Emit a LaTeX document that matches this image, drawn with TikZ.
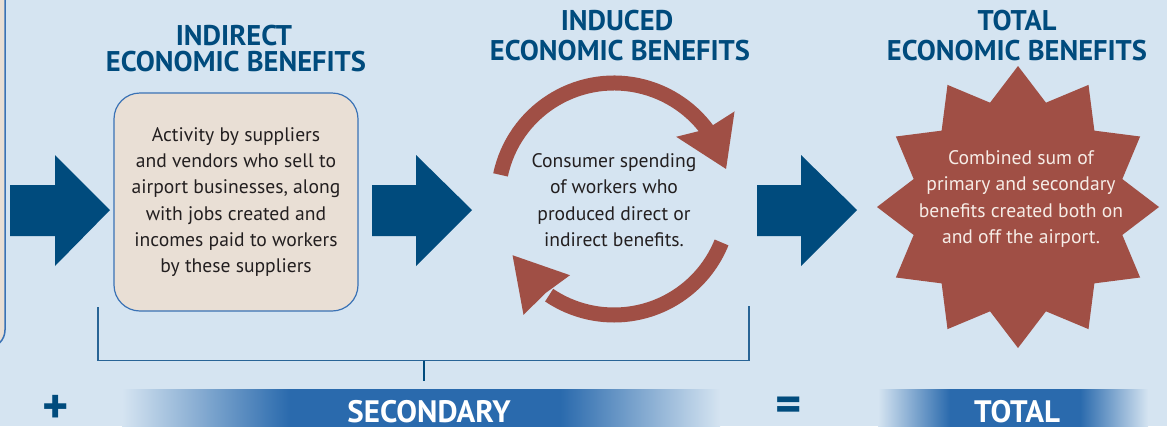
\documentclass[tikz,border=0pt]{standalone}
\usepackage{fontspec}
\setmainfont{PT Sans}
\definecolor{bg}{RGB}{213,228,241}
\definecolor{navy}{RGB}{0,75,125}
\definecolor{beige}{RGB}{233,223,213}
\definecolor{boxline}{RGB}{58,114,181}
\definecolor{rust}{RGB}{160,79,69}
\definecolor{barblue}{RGB}{42,106,173}
\definecolor{ink}{RGB}{35,31,32}
\definecolor{brk}{RGB}{40,100,150}
\definecolor{startext}{RGB}{246,236,230}
\begin{document}
\begin{tikzpicture}[x=1pt,y=-1pt,
  titletext/.style={text=navy, font=\fontsize{28.5}{30}\selectfont\bfseries, anchor=base, inner sep=0},
  bodytext/.style={text=ink, font=\fontsize{19.6}{26.3}\selectfont, align=center, inner sep=0},
  blockarrow/.style={fill=navy},
  loop/.style={draw=rust, line width=15},
  bracketline/.style={draw=brk, line width=1.5},
  bartext/.style={text=white, font=\fontsize{31}{33}\selectfont\bfseries, anchor=base, inner sep=0, text depth=0pt},
  signtext/.style={text=navy, font=\fontsize{50}{50}\selectfont\bfseries, inner sep=0, text depth=0pt}]
\fill[bg] (0,0) rectangle (1167,426);
\useasboundingbox (0,0) rectangle (1167,426);

% partial box at the left edge
\draw[draw=boxline, fill=beige, line width=1.5, rounded corners=18] (-60,-20) rectangle (5,348);

% block arrows
\fill[blockarrow] (10,185) -- (55,185) -- (55,155) -- (110,210) -- (55,266) -- (55,236) -- (10,236) -- cycle;
\fill[blockarrow] (372,185) -- (416,185) -- (416,155) -- (472,210) -- (416,266) -- (416,236) -- (372,236) -- cycle;
\fill[blockarrow] (757,185) -- (801,185) -- (801,155) -- (857,210) -- (801,266) -- (801,236) -- (757,236) -- cycle;

% titles
\node[titletext] (t1a) at (234,45) {INDIRECT};
\node[titletext] (t1b) at (236,71) {ECONOMIC BENEFITS};
\node[titletext] (t2a) at (617,30) {INDUCED};
\node[titletext] (t2b) at (620,60) {ECONOMIC BENEFITS};
\node[titletext] (t3a) at (1017,30) {TOTAL};
\node[titletext] (t3b) at (1017,60) {ECONOMIC BENEFITS};

% indirect box
\node[draw=boxline, fill=beige, line width=1.2, rounded corners=26,
      minimum width=244, minimum height=218, bodytext] (indirect) at (236,202)
  {Activity by suppliers\\and vendors who sell to\\airport businesses, along\\with jobs created and\\incomes paid to workers\\by these suppliers};

% induced loop
\begin{scope}[shift={(614,199)}]
  \draw[loop] (-168:116) arc[start angle=-168, end angle=-33, radius=116];
  \fill[rust] (-15:116) -- (-36:149) -- (-37:116) -- (-45:88) -- cycle;
  \draw[loop] (22:116) arc[start angle=22, end angle=124, radius=116];
  \fill[rust] (151:116) -- (128:147) -- (126:116) -- (120:88) -- cycle;
\end{scope}
\node[bodytext] (induced) at (614,200)
  {Consumer spending\\of workers who\\produced direct or\\indirect benefits.};

% total star
\begin{scope}[shift={(1018,207)}]
  \fill[rust] plot[samples at={0,...,23}] ({90+15*\x}:{ifthenelse(mod(\x,2)==0,141,108)}) -- cycle;
\end{scope}
\node[bodytext, text=startext] (total) at (1021,199)
  {Combined sum of\\primary and secondary\\benefits created both on\\and off the airport.};

% bracket
\coordinate (bl) at (98,307);
\coordinate (br) at (749,306);
\draw[bracketline] (bl) -- (98,360.5) -- (749,360.5) -- (br);
\coordinate (tk) at (424,360.5);
\coordinate (tkend) at (424,381);
\draw[draw=navy, line width=2] (tk) -- (tkend);

% bottom bars
\shade[left color=bg, right color=barblue] (122,389) rectangle (290,430);
\fill[barblue] (289.5,389) rectangle (560.5,430);
\shade[left color=barblue, right color=bg] (560,389) rectangle (720,430);
\shade[left color=bg, right color=barblue] (878,389) rectangle (950,430);
\fill[barblue] (949.5,389) rectangle (1080.5,430);
\shade[left color=barblue, right color=bg] (1080,389) rectangle (1148,430);

\node[bartext] (sec) at (429,422) {SECONDARY};
\node[bartext] (tot) at (1017,422) {TOTAL};
\node[signtext] (plus) at (56,409) {+};
\node[signtext] (eq) at (789,409) {=};
\end{tikzpicture}
\end{document}
